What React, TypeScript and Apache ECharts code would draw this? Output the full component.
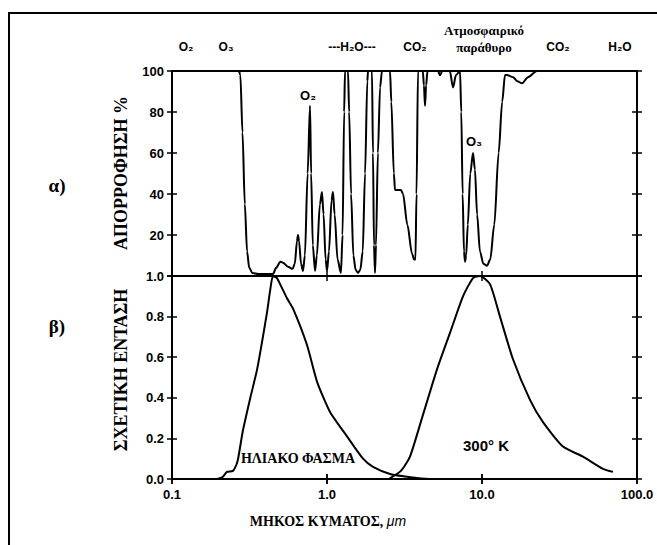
import React, { useEffect, useRef } from "react";
import * as echarts from "echarts";

// ---------- data ----------
const xTickLabels = ["0.1", "1.0", "10.0", "100.0"];

// Panel (a): absorption %
const absorptionWavelength = [
  0.1, 0.27, 0.276, 0.285, 0.295, 0.305, 0.315, 0.33, 0.36, 0.448, 0.47, 0.5, 0.52,
  0.56, 0.6, 0.62, 0.64, 0.65, 0.66, 0.68, 0.7, 0.72, 0.75, 0.777, 0.79, 0.81, 0.837,
  0.86, 0.9, 0.928, 0.95, 0.98, 1.0, 1.03, 1.07, 1.093, 1.12, 1.17, 1.23, 1.26, 1.29,
  1.307, 1.366, 1.39, 1.43, 1.48, 1.53, 1.585, 1.64, 1.7, 1.76, 1.82, 1.84, 1.95, 1.98,
  2.01, 2.04, 2.07, 2.13, 2.2, 2.263, 2.55, 2.6, 2.7, 2.746, 3.0, 3.093, 3.3, 3.535,
  3.65, 3.72, 3.78, 3.865, 4.15, 4.22, 4.289, 4.36, 4.45, 5.2, 5.358, 5.55, 6.2, 6.5,
  6.8, 7.215, 7.35, 7.5, 7.65, 7.77, 7.9, 8.1, 8.4, 8.75, 9.0, 9.3, 9.7, 10.2, 10.77,
  11.3, 12.0, 12.8, 13.5, 14.07, 14.5, 15.85, 16.9, 18.12, 19.8, 22.63, 100
];
const absorptionValue = [
  100, 100, 98, 70, 35, 12, 4, 1.5, 1, 1, 4, 7, 6.5,
  4.5, 3.5, 6, 17, 20, 17, 6, 2.5, 10, 50, 83, 50, 15, 2.5,
  10, 35, 41, 30, 8, 2.5, 12, 37, 41, 30, 8, 1.5, 20, 80,
  100, 100, 80, 40, 10, 3, 1.5, 3, 12, 50, 95, 100, 100, 60,
  15, 1.5, 15, 60, 92, 100, 100, 85, 50, 42, 42, 40, 25, 11,
  8, 8, 40, 100, 100, 93, 83, 93, 100, 100, 98, 100, 100, 92,
  98, 100, 80, 40, 12, 7, 10, 25, 50, 60, 52, 30, 12, 6, 5,
  8, 25, 60, 85, 98, 98, 97, 95, 94, 97, 100, 100
];

// Panel (b): relative intensity
const solarWavelength = [
  0.195, 0.212, 0.226, 0.247, 0.26, 0.267, 0.287, 0.32, 0.354, 0.41, 0.43, 0.448,
  0.475, 0.498, 0.552, 0.603, 0.743, 0.862, 1.046, 1.346, 1.708, 1.981, 2.55, 3.2,
  3.808, 4.6
];
const solarIntensity = [
  0, 0.01, 0.035, 0.04, 0.07, 0.1, 0.24, 0.4, 0.54, 0.82, 0.93, 1.0,
  0.99, 0.96, 0.89, 0.84, 0.66, 0.48, 0.33, 0.21, 0.1, 0.06, 0.025, 0.012,
  0.005, 0
];
const earthWavelength = [
  2.5, 3.0, 3.43, 4.1, 5.125, 6.217, 7.54, 8.75, 9.71, 11.26, 13.06, 15.85,
  20.4, 24.75, 33.3, 44.84, 60.34, 70.0
];
const earthIntensity = [
  0, 0.04, 0.11, 0.3, 0.54, 0.72, 0.9, 0.99, 1.0, 0.96, 0.8, 0.59,
  0.39, 0.28, 0.16, 0.11, 0.05, 0.035
];

const absorptionTitle = "ΑΠΟΡΡΟΦΗΣΗ %";
const intensityTitle = "ΣΧΕΤΙΚΗ ΕΝΤΑΣΗ";
const xTitle = "ΜΗΚΟΣ ΚΥΜΑΤΟΣ, ";
const xTitleUnit = "μm";

const topLabels = [
  { text: "O₂", x: 186 },
  { text: "O₃", x: 226 },
  { text: "---H₂O---", x: 352 },
  { text: "CO₂", x: 415 },
  { text: "CO₂", x: 558 },
  { text: "H₂O", x: 620 },
];

// ---------- layout ----------
const L = 172;
const W = 465;
const T0 = 71;
const H0 = 205;
const T1 = 276;
const H1 = 203;

const tickFont = {
  fontFamily: "Liberation Sans, Arial, sans-serif",
  fontWeight: "bold",
  fontSize: 13,
  color: "#000",
};

function yAxis(grid: number, position: string, inside: boolean, labels: boolean, min: number, max: number, interval: number, fmt: (v: number) => string) {
  return {
    gridIndex: grid,
    type: "value",
    position,
    min,
    max,
    interval,
    axisLine: { show: false },
    splitLine: { show: false },
    axisTick: { show: true, inside, length: 5, lineStyle: { color: "#000", width: 1.5 } },
    axisLabel: { show: labels, formatter: fmt, margin: 8, ...tickFont },
  };
}

function xAxis(grid: number, position: string, inside: boolean, labels: boolean) {
  return {
    gridIndex: grid,
    type: "log",
    logBase: 10,
    min: 0.1,
    max: 100,
    position,
    axisLine: { show: false },
    splitLine: { show: false },
    axisTick: { show: true, inside, length: 5, lineStyle: { color: "#000", width: 1.5 } },
    axisLabel: {
      show: labels,
      margin: 9,
      ...tickFont,
      formatter: (v: number) => xTickLabels[Math.round(Math.log10(v)) + 1] ?? "",
    },
  };
}

const topFmt = (v: number) => (v === 0 ? "" : String(Math.round(v)));
const botFmt = (v: number) => v.toFixed(1);

export default function App() {
  const ref = useRef<HTMLDivElement>(null);

  useEffect(() => {
    if (!ref.current) return;
    const chart = echarts.init(ref.current, null, { renderer: "svg" });

    const smallSans = { fontFamily: "Liberation Sans, DejaVu Sans, sans-serif", fontWeight: "bold", fontSize: 12, fill: "#000" };
    const boldSerif = "Liberation Serif, DejaVu Serif, serif";

    const graphic: any[] = [
      {
        type: "rect",
        shape: { x: 9, y: 13, width: 700, height: 600 },
        style: { fill: "none", stroke: "#000", lineWidth: 2 },
        silent: true,
      },
      ...topLabels.map((t) => ({
        type: "text",
        x: t.x,
        y: 47,
        style: { text: t.text, ...smallSans, align: "center", verticalAlign: "middle" },
      })),
      {
        type: "text",
        x: 484,
        y: 30,
        style: { text: "Ατμοσφαιρικό", fontFamily: boldSerif, fontWeight: "bold", fontSize: 13, fill: "#000", align: "center", verticalAlign: "middle" },
      },
      {
        type: "text",
        x: 484,
        y: 47,
        style: { text: "παράθυρο", fontFamily: boldSerif, fontWeight: "bold", fontSize: 13, fill: "#000", align: "center", verticalAlign: "middle" },
      },
      {
        type: "text",
        x: 308,
        y: 95,
        style: { text: "O₂", ...smallSans, fontSize: 13, align: "center", verticalAlign: "middle" },
      },
      {
        type: "text",
        x: 474,
        y: 141,
        style: { text: "O₃", ...smallSans, fontSize: 13, align: "center", verticalAlign: "middle" },
      },
      {
        type: "text",
        x: 298,
        y: 458,
        style: { text: "ΗΛΙΑΚΟ ΦΑΣΜΑ", fontFamily: boldSerif, fontWeight: "bold", fontSize: 14, fill: "#000", align: "center", verticalAlign: "middle" },
      },
      {
        type: "text",
        x: 486,
        y: 445,
        style: { text: "300° K", fontFamily: "Liberation Sans, Arial, sans-serif", fontWeight: "bold", fontSize: 15, fill: "#000", align: "center", verticalAlign: "middle" },
      },
      {
        type: "text",
        x: 57,
        y: 185,
        style: { text: "α)", fontFamily: boldSerif, fontWeight: "bold", fontSize: 19, fill: "#000", align: "center", verticalAlign: "middle" },
      },
      {
        type: "text",
        x: 57,
        y: 326,
        style: { text: "β)", fontFamily: boldSerif, fontWeight: "bold", fontSize: 19, fill: "#000", align: "center", verticalAlign: "middle" },
      },
      {
        type: "text",
        x: 121,
        y: 173,
        rotation: Math.PI / 2,
        style: { text: absorptionTitle, fontFamily: boldSerif, fontWeight: "bold", fontSize: 18, fill: "#000", align: "center", verticalAlign: "middle" },
      },
      {
        type: "text",
        x: 121,
        y: 370,
        rotation: Math.PI / 2,
        style: { text: intensityTitle, fontFamily: boldSerif, fontWeight: "bold", fontSize: 18, fill: "#000", align: "center", verticalAlign: "middle" },
      },
      {
        type: "text",
        x: 328,
        y: 521,
        style: {
          text: `{b|${xTitle}}{i|${xTitleUnit}}`,
          align: "center",
          verticalAlign: "middle",
          rich: {
            b: { fontFamily: boldSerif, fontWeight: "bold", fontSize: 14, fill: "#000" },
            i: { fontFamily: "Liberation Sans, Arial, sans-serif", fontStyle: "italic", fontSize: 14, fill: "#000" },
          },
        },
      },
    ];

    chart.setOption({
      animation: false,
      backgroundColor: "#fff",
      grid: [
        { left: L, top: T0, width: W, height: H0, show: true, borderColor: "#000", borderWidth: 2, backgroundColor: "transparent" },
        { left: L, top: T1, width: W, height: H1, show: true, borderColor: "#000", borderWidth: 2, backgroundColor: "transparent" },
      ],
      xAxis: [
        xAxis(0, "top", false, false),
        xAxis(0, "top", true, false),
        xAxis(1, "top", false, false),
        xAxis(1, "top", true, false),
        xAxis(1, "bottom", false, true),
        xAxis(1, "bottom", true, false),
      ],
      yAxis: [
        yAxis(0, "left", false, true, 0, 100, 20, topFmt),
        yAxis(0, "left", true, false, 0, 100, 20, topFmt),
        yAxis(0, "right", false, false, 0, 100, 20, topFmt),
        yAxis(0, "right", true, false, 0, 100, 20, topFmt),
        yAxis(1, "left", false, true, 0, 1, 0.2, botFmt),
        yAxis(1, "left", true, false, 0, 1, 0.2, botFmt),
        yAxis(1, "right", false, false, 0, 1, 0.2, botFmt),
        yAxis(1, "right", true, false, 0, 1, 0.2, botFmt),
      ],
      series: [
        {
          type: "line",
          xAxisIndex: 0,
          yAxisIndex: 0,
          data: absorptionWavelength.map((x, i) => [x, absorptionValue[i]]),
          showSymbol: false,
          smooth: 0.3,
          smoothMonotone: "x",
          lineStyle: { color: "#000", width: 2 },
          clip: true,
        },
        {
          type: "line",
          xAxisIndex: 4,
          yAxisIndex: 4,
          data: solarWavelength.map((x, i) => [x, solarIntensity[i]]),
          showSymbol: false,
          smooth: 0.2,
          lineStyle: { color: "#000", width: 2 },
          clip: true,
        },
        {
          type: "line",
          xAxisIndex: 4,
          yAxisIndex: 4,
          data: earthWavelength.map((x, i) => [x, earthIntensity[i]]),
          showSymbol: false,
          smooth: 0.2,
          lineStyle: { color: "#000", width: 2 },
          clip: true,
        },
      ],
      graphic,
    });

    return () => chart.dispose();
  }, []);

  return (
    <div
      ref={ref}
      style={{ position: "absolute", left: 0, top: 0, width: 657, height: 545 }}
    />
  );
}
